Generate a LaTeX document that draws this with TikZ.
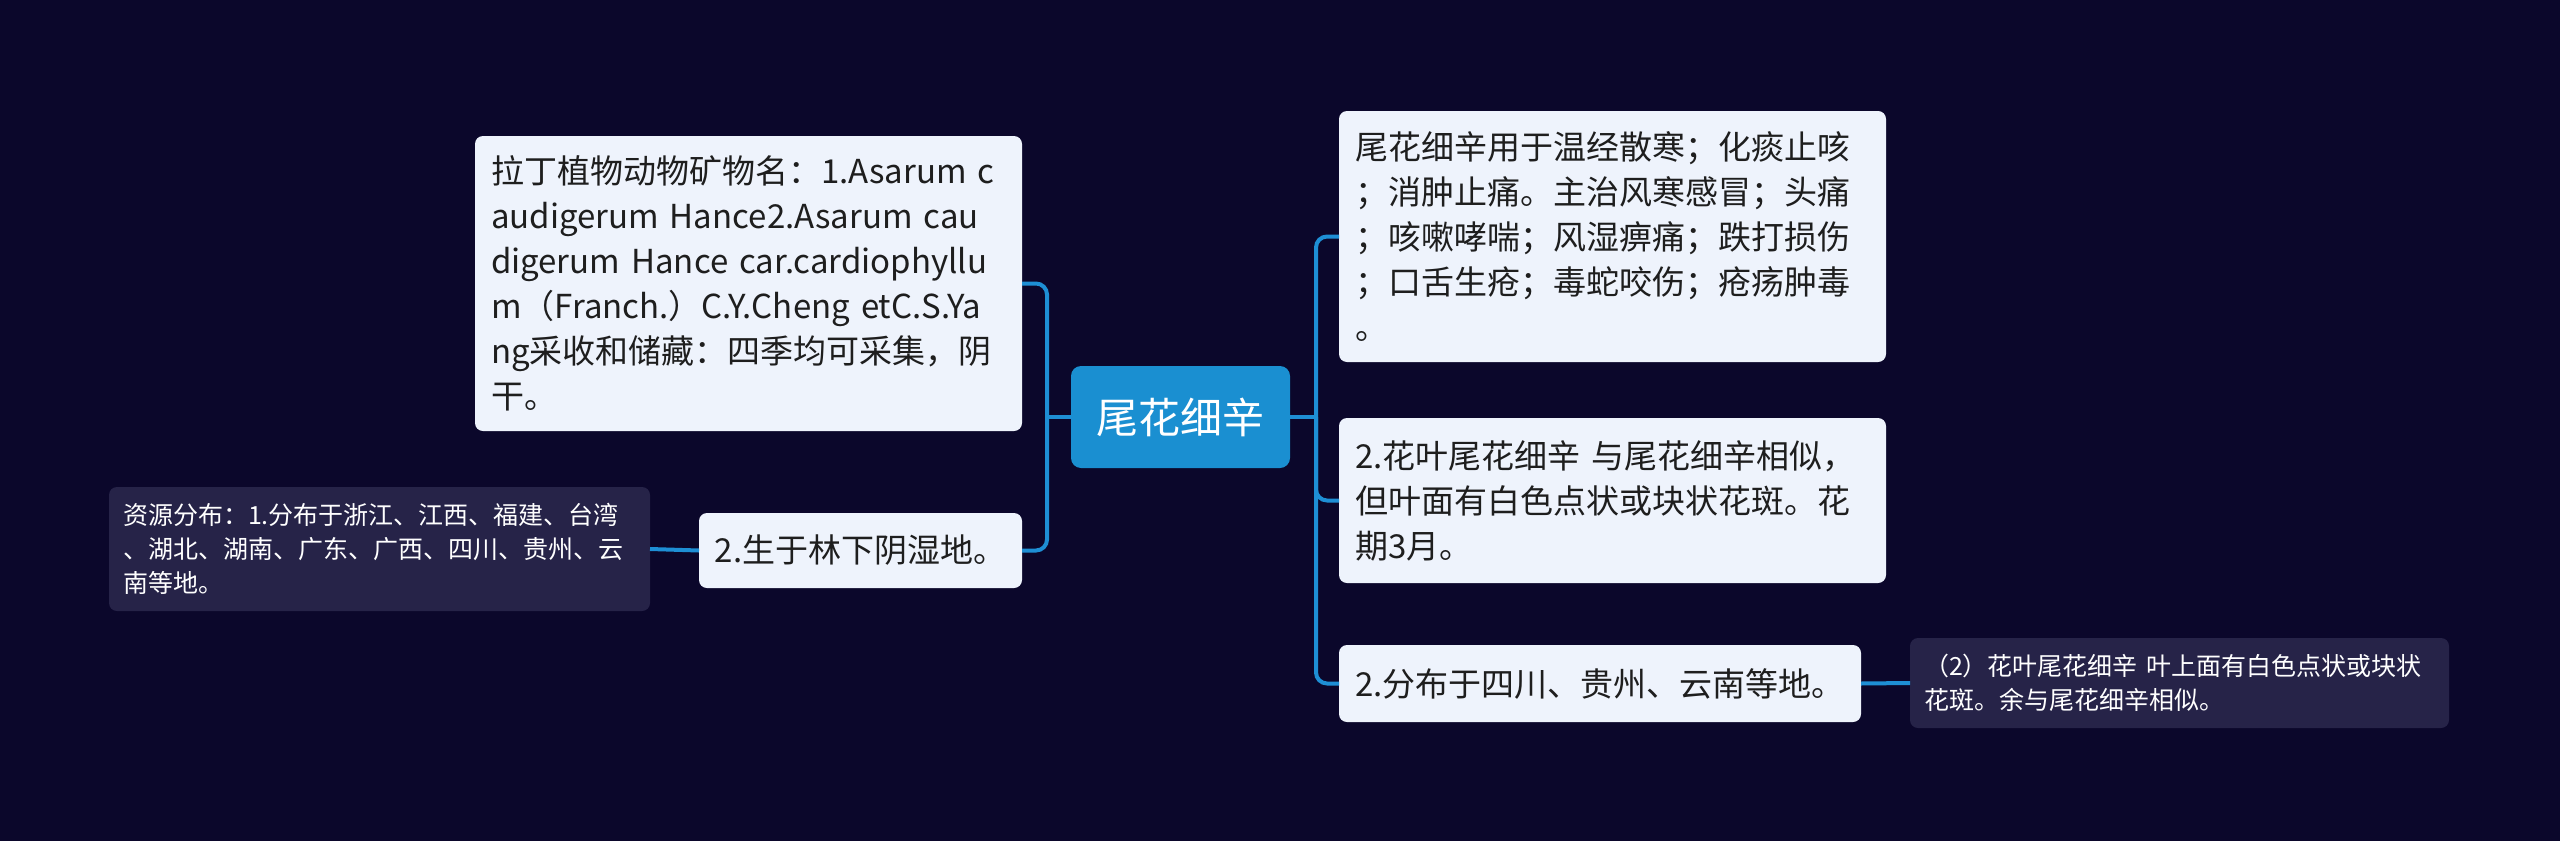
\documentclass[tikz,border=0pt]{standalone}
\usepackage{fontspec}
\setmainfont{Noto Sans CJK SC}
\definecolor{bg}{RGB}{11,7,43}
\definecolor{lightfill}{RGB}{238,243,252}
\definecolor{darkfill}{RGB}{38,35,72}
\definecolor{linkblue}{RGB}{30,143,213}
\definecolor{centerblue}{RGB}{26,143,209}
\definecolor{darktext}{RGB}{30,30,30}
\tikzset{
  lightbox/.style={rectangle, rounded corners=8bp, fill=lightfill, text=darktext,
    font=\fontsize{33bp}{45bp}\selectfont, align=left, inner xsep=16bp, inner ysep=0bp,
    outer sep=0pt, anchor=north west},
  darkbox/.style={rectangle, rounded corners=8bp, fill=darkfill, text=white,
    font=\fontsize{25bp}{34bp}\selectfont, align=left, inner xsep=14bp, inner ysep=0bp,
    outer sep=0pt, anchor=north west},
  centerbox/.style={rectangle, rounded corners=10bp, fill=centerblue, text=white,
    font=\fontsize{42bp}{50bp}\selectfont, inner sep=0pt, outer sep=0pt},
  conn/.style={draw=linkblue, line width=4bp},
  elbowconn/.style={conn, rounded corners=11bp}
}
\begin{document}
\begin{tikzpicture}[x=1bp,y=-1bp]
\fill[bg] (0,0) rectangle (2560,841);
\useasboundingbox (0,0) rectangle (2560,841);

\node[centerbox, minimum width=219bp, minimum height=102bp] (c) at (1180.5,417) {尾花细辛};

\node[lightbox, text width=515bp, minimum height=295bp] (l1) at (475,136)
 {拉丁植物动物矿物名：1.Asarum c\\audigerum Hance2.Asarum cau\\digerum Hance car.cardiophyllu\\m（Franch.）C.Y.Cheng etC.S.Ya\\ng采收和储藏：四季均可采集，阴\\干。};

\node[lightbox, align=center, minimum width=323bp, minimum height=75bp, inner xsep=0bp] (l2) at (699,513)
 {2.生于林下阴湿地。};

\node[darkbox, text width=513bp, minimum height=124bp] (ld) at (109,487)
 {资源分布：1.分布于浙江、江西、福建、台湾\\、湖北、湖南、广东、广西、四川、贵州、云\\南等地。};

\node[lightbox, text width=515bp, minimum height=251bp] (r1) at (1339,111)
 {尾花细辛用于温经散寒；化痰止咳\\；消肿止痛。主治风寒感冒；头痛\\；咳嗽哮喘；风湿痹痛；跌打损伤\\；口舌生疮；毒蛇咬伤；疮疡肿毒\\。};

\node[lightbox, text width=515bp, minimum height=165bp] (r2) at (1339,418)
 {2.花叶尾花细辛 与尾花细辛相似，\\但叶面有白色点状或块状花斑。花\\期3月。};

\node[lightbox, align=center, minimum width=522bp, minimum height=77bp, inner xsep=0bp] (r3) at (1339,645)
 {2.分布于四川、贵州、云南等地。};

\node[darkbox, text width=511bp, minimum height=90bp] (rd) at (1910,638)
 {（2）花叶尾花细辛 叶上面有白色点状或块状\\花斑。余与尾花细辛相似。};

\coordinate (jL) at (1047,417);
\coordinate (jR) at (1316,417);

\draw[conn] (c.west) -- (jL);
\draw[elbowconn] (jL) |- (l1.east);
\draw[elbowconn] (jL) |- (l2.east);
\draw[conn] (l2.west) -- (ld.east);

\draw[conn] (c.east) -- (jR);
\draw[elbowconn] (jR) |- (r1.west);
\draw[elbowconn] (jR) |- (r2.west);
\draw[elbowconn] (jR) |- (r3.west);
\draw[conn] (r3.east) -- (rd.west);
\end{tikzpicture}
\end{document}
